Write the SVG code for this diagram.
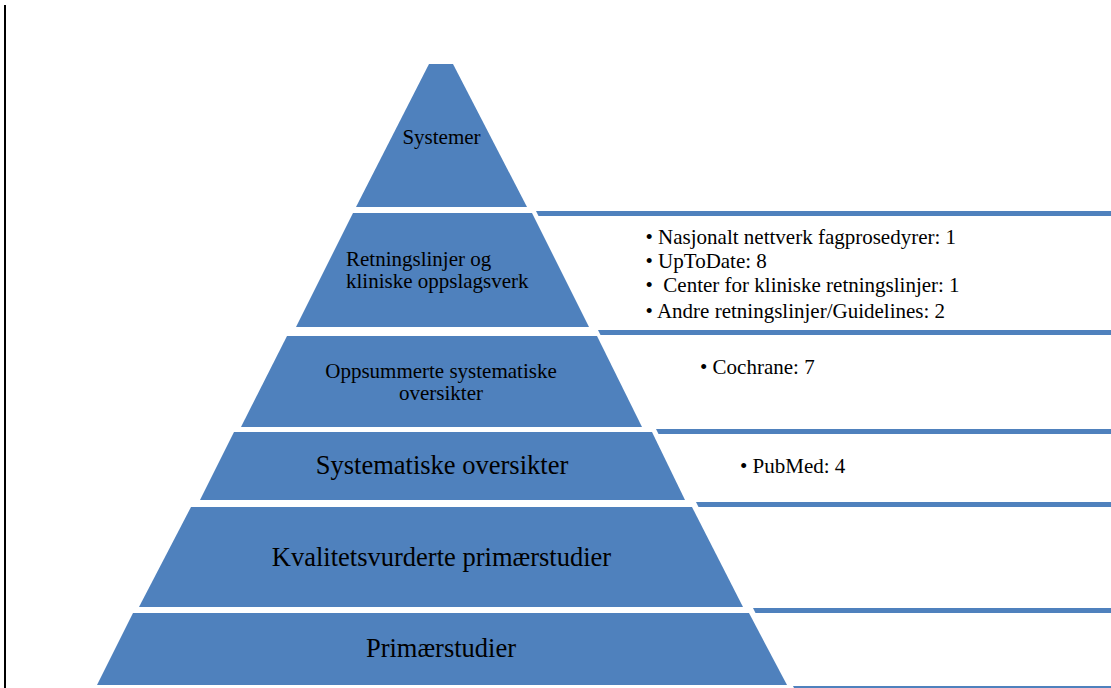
<svg xmlns="http://www.w3.org/2000/svg" width="1111" height="688" viewBox="0 0 1111 688">
<style>
.tier{fill:#4F81BD}
.bar{fill:#4F81BD}
.t{font-family:"Liberation Serif","Times New Roman",serif;fill:#000}
.s{font-size:21px}
.l{font-size:26.5px}
.m{text-anchor:middle}
</style>
<rect width="1111" height="688" fill="#fff"/>
<line x1="5" y1="5" x2="5" y2="688" stroke="#000" stroke-width="2"/>
<g id="connectors">
<polygon class="bar" points="536,211 1111,211 1111,216 538.5,216"/>
<polygon class="bar" points="598,330 1111,330 1111,335 600.5,335"/>
<polygon class="bar" points="656,429 1111,429 1111,434 658.5,434"/>
<polygon class="bar" points="696,502 1111,502 1111,507 698.5,507"/>
<polygon class="bar" points="753,608 1111,608 1111,613 755.5,613"/>
<polygon class="bar" points="793,686 1111,686 1111,691 795.5,691"/>
</g>
<g id="tier1">
<polygon class="tier" points="429,64 453,64 527,207 356,207"/>
<text class="t s m" x="441.5" y="144">Systemer</text>
</g>
<g id="tier2">
<polygon class="tier" points="353,213 532,213 589,327 296,327"/>
<text class="t s" x="346" y="266">Retningslinjer og</text>
<text class="t s" x="346" y="288">kliniske oppslagsverk</text>
</g>
<g id="tier3">
<polygon class="tier" points="287,336 597,336 642,427 241,427"/>
<text class="t s m" x="441" y="378">Oppsummerte systematiske</text>
<text class="t s m" x="441" y="400">oversikter</text>
</g>
<g id="tier4">
<polygon class="tier" points="234,432 652,432 685,500 200,500"/>
<text class="t l m" x="442" y="474">Systematiske oversikter</text>
</g>
<g id="tier5">
<polygon class="tier" points="191,507 692,507 743,607 139,607"/>
<text class="t l m" x="441.5" y="566">Kvalitetsvurderte primærstudier</text>
</g>
<g id="tier6">
<polygon class="tier" points="133,613 749,613 787,685 97,685"/>
<text class="t l m" x="441" y="657">Primærstudier</text>
</g>
<g id="list2">
<text class="t s" x="645.5" y="244">• Nasjonalt nettverk fagprosedyrer: 1</text>
<text class="t s" x="645.5" y="268">• UpToDate: 8</text>
<text class="t s" x="645.5" y="292" xml:space="preserve">•  Center for kliniske retningslinjer: 1</text>
<text class="t s" x="645.5" y="318">• Andre retningslinjer/Guidelines: 2</text>
</g>
<g id="list3">
<text class="t s" x="700" y="374">• Cochrane: 7</text>
</g>
<g id="list4">
<text class="t s" x="740" y="473">• PubMed: 4</text>
</g>
</svg>
